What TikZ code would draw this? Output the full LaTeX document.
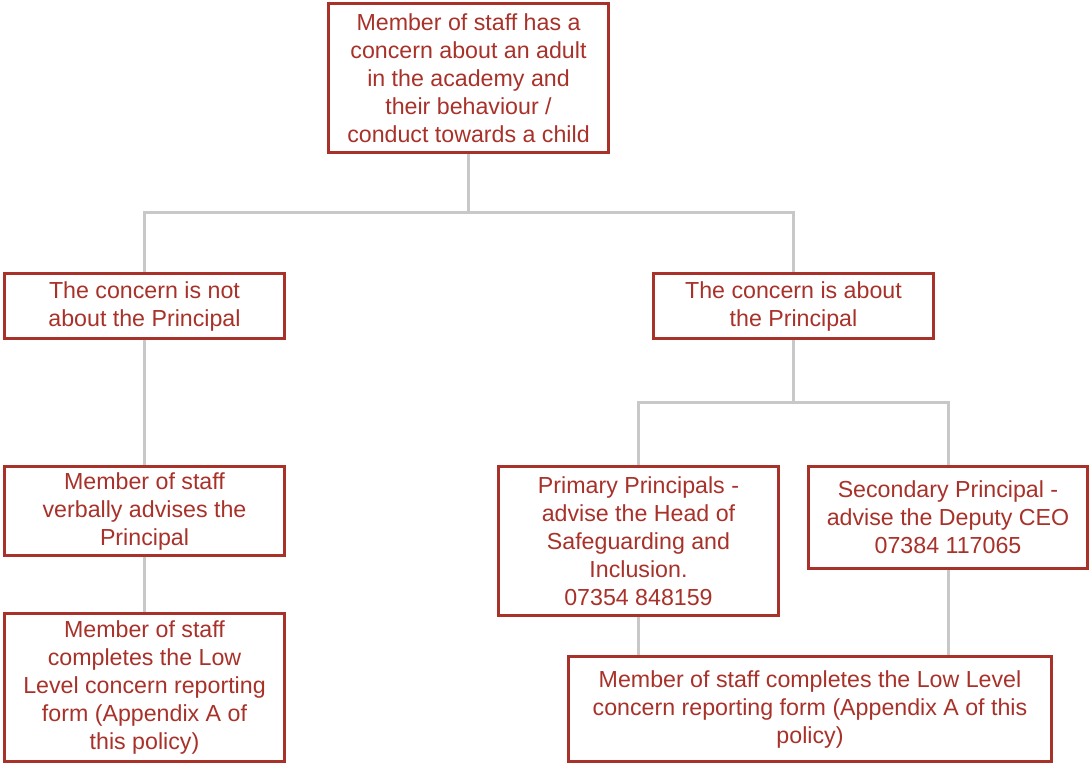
\documentclass[tikz,border=0pt]{standalone}
\usepackage{fontspec}
\setmainfont{Liberation Sans}
\definecolor{boxred}{HTML}{A8322A}
\definecolor{linegray}{HTML}{C8C8C8}
\begin{document}
\begin{tikzpicture}[x=0.75pt,y=-0.75pt,
  box/.style={draw=boxred, line width=2.25pt, fill=white, text=boxred, align=center,
    inner sep=0pt, minimum width=210pt, font=\fontsize{17.4}{21}\selectfont},
  conn/.style={draw=linegray, line width=2.25pt}]
\useasboundingbox (0,0) rectangle (1090,765);
\coordinate (j1) at (0,212);
\coordinate (j2) at (0,402);
\node[box, minimum height=111.75pt] (top) at (468.5,78) {Member of staff has a\\concern about an adult\\in the academy and\\their behaviour /\\conduct towards a child};
\node[box, minimum height=48.75pt] (notp) at (144.5,306) {The concern is not\\about the Principal};
\node[box, minimum height=48.75pt] (isp) at (793.5,306) {The concern is about\\the Principal};
\node[box, minimum height=66.75pt] (verb) at (144.5,511) {Member of staff\\verbally advises the\\Principal};
\node[box, minimum height=111.75pt] (prim) at (638.5,541) {Primary Principals -\\advise the Head of\\Safeguarding and\\Inclusion.\\07354 848159};
\node[box, minimum height=76.5pt, minimum width=209.25pt] (sec) at (948,517.5) {Secondary Principal -\\advise the Deputy CEO\\07384 117065};
\node[box, minimum height=111pt] (lowl) at (144.5,687.5) {Member of staff\\completes the Low\\Level concern reporting\\form (Appendix A of\\this policy)};
\node[box, minimum height=78.75pt, minimum width=362.25pt] (lowr) at (810,709) {Member of staff completes the Low Level\\concern reporting form (Appendix A of this\\policy)};
\draw[conn] (top.south) -- (top.south |- j1) -| (notp.north);
\draw[conn] (top.south |- j1) -| (isp.north);
\draw[conn] (notp.south) -- (verb.north);
\draw[conn] (verb.south) -- (lowl.north);
\draw[conn] (isp.south) -- (isp.south |- j2) -| (prim.north);
\draw[conn] (isp.south |- j2) -| (sec.north);
\draw[conn] (prim.south) -- (prim.south |- lowr.north);
\draw[conn] (sec.south) -- (sec.south |- lowr.north);
\end{tikzpicture}
\end{document}
